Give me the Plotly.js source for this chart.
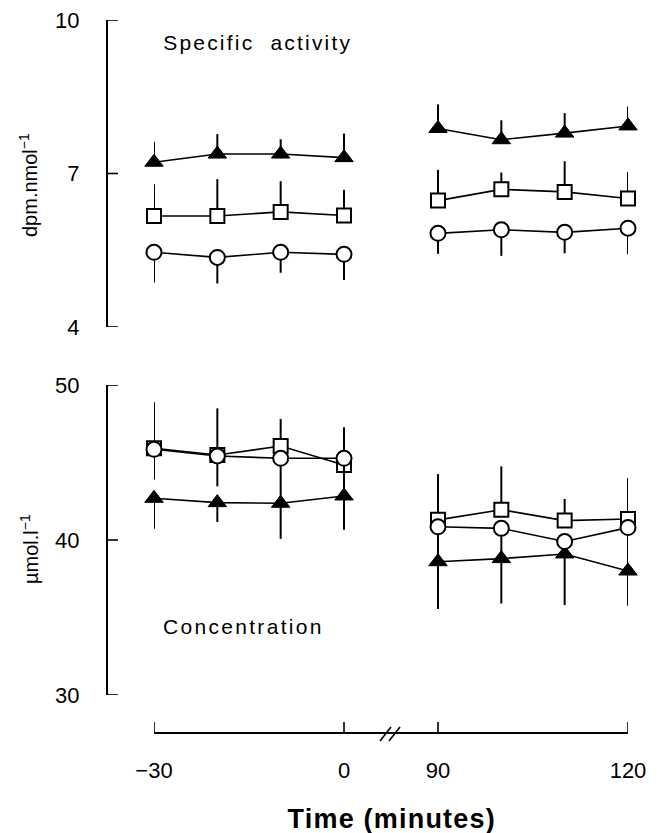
<!DOCTYPE html>
<html>
<head>
<meta charset="utf-8">
<script src="https://cdn.plot.ly/plotly-3.0.1.min.js"></script>
<style>
  html, body { margin: 0; padding: 0; background: white; }
  #chart { width: 661px; height: 833px; }
</style>
</head>
<body>
<div id="chart"></div>
<script>
// ---------------- data ----------------
const times = [-30, -20, -10, 0, 90, 100, 110, 120];
const xTickTimes = [-30, 0, 90, 120];
const xTickLabels = ['\u221230', '0', '90', '120'];
const saTickVals = [4, 7, 10];
const cTickVals = [30, 40, 50];

// Specific activity (dpm.nmol-1)
const saTriangle    = [7.22, 7.38, 7.38, 7.31, 7.88, 7.66, 7.79, 7.93];
const saTriangleErr = [0.40, 0.39, 0.29, 0.47, 0.47, 0.38, 0.39, 0.38]; // upward
const saSquare      = [6.17, 6.17, 6.25, 6.18, 6.47, 6.69, 6.64, 6.51];
const saSquareErr   = [0.62, 0.72, 0.60, 0.50, 0.60, 0.33, 0.60, 0.52]; // upward
const saCircle      = [5.46, 5.36, 5.46, 5.42, 5.83, 5.90, 5.85, 5.93];
const saCircleErr   = [0.59, 0.51, 0.40, 0.50, 0.40, 0.51, 0.41, 0.51]; // downward

// Concentration (umol.l-1)
const cTriangle    = [42.69, 42.41, 42.37, 42.84, 38.60, 38.80, 39.10, 38.00];
const cTriangleErr = [1.97, 1.25, 2.30, 2.18, 3.05, 2.90, 3.30, 2.25]; // downward
const cSquare      = [45.92, 45.48, 46.06, 44.84, 41.30, 41.95, 41.25, 41.35];
const cSquareErr   = [2.96, 3.01, 1.75, 2.43, 2.95, 2.80, 1.40, 2.65]; // upward
const cCircle      = [45.85, 45.42, 45.27, 45.27, 40.85, 40.75, 39.90, 40.80];
const cCircleErr   = [1.95, 1.96, 2.60, 2.00, 1.80, 1.80, 0.90, 2.30]; // downward

// ---------------- helpers ----------------
const W = 661, H = 833;
const fx = px => px / W;
const fy = py => 1 - py / H;
const GAP = 14.84;                       // width of the axis break, in minutes of scale
const tx = t => (t <= 0 ? t : t - 90 + GAP);

const FONT = 'Liberation Sans, Arial, Helvetica, sans-serif';

const markerStyles = {
  triangle: { symbol: 'triangle-up', size: 16, color: 'black', line: { color: 'black', width: 1 } },
  square:   { symbol: 'square', size: 14, color: 'white', line: { color: 'black', width: 2 } },
  circle:   { symbol: 'circle', size: 15, color: 'white', line: { color: 'black', width: 2 } }
};

function makeTraces(yvals, errs, dir, yaxis, kind) {
  const before = times.map((t, i) => i).filter(i => times[i] <= 0);
  const after  = times.map((t, i) => i).filter(i => times[i] > 0);
  return [before, after].map(idx => ({
    type: 'scatter',
    mode: 'lines+markers',
    xaxis: 'x',
    yaxis: yaxis,
    x: idx.map(i => tx(times[i])),
    y: idx.map(i => yvals[i]),
    error_y: {
      type: 'data', symmetric: false,
      array: idx.map(i => dir === 'up' ? errs[i] : 0),
      arrayminus: idx.map(i => dir === 'down' ? errs[i] : 0),
      color: 'black', thickness: 2, width: 0
    },
    line: { color: 'black', width: 1.6 },
    marker: markerStyles[kind],
    cliponaxis: false,
    hoverinfo: 'skip',
    showlegend: false
  }));
}

const data = [].concat(
  makeTraces(saTriangle, saTriangleErr, 'up', 'y', 'triangle'),
  makeTraces(saSquare, saSquareErr, 'up', 'y', 'square'),
  makeTraces(saCircle, saCircleErr, 'down', 'y', 'circle'),
  makeTraces(cTriangle, cTriangleErr, 'down', 'y2', 'triangle'),
  makeTraces(cSquare, cSquareErr, 'up', 'y2', 'square'),
  makeTraces(cCircle, cCircleErr, 'down', 'y2', 'circle')
);

const yCommon = {
  anchor: 'free', position: fx(107),
  showline: true, linewidth: 2.2, linecolor: 'black',
  ticks: '',
  showgrid: false, zeroline: false,
  tickfont: { family: FONT, size: 22, color: 'black' },
  ticklabelstandoff: 22,
  fixedrange: true
};

// tick marks (inside) drawn as short lines through the axes' own scales
const tickShapes = [].concat(
  saTickVals.map(v => ({ type: 'line', xref: 'paper', yref: 'y', x0: fx(107), x1: fx(118), y0: v, y1: v,
                         line: { color: 'black', width: 1.6 } })),
  cTickVals.map(v => ({ type: 'line', xref: 'paper', yref: 'y2', x0: fx(107), x1: fx(118), y0: v, y1: v,
                        line: { color: 'black', width: 1.6 } })),
  xTickTimes.map(t => ({ type: 'line', xref: 'x', yref: 'paper', x0: tx(t), x1: tx(t), y0: fy(733), y1: fy(722),
                         line: { color: 'black', width: 1.6 } }))
);

const layout = {
  width: W, height: H,
  margin: { l: 0, r: 0, t: 0, b: 0 },
  paper_bgcolor: 'white', plot_bgcolor: 'rgba(0,0,0,0)',
  showlegend: false,
  font: { family: FONT, color: 'black', size: 21 },
  xaxis: {
    domain: [fx(154), fx(628)],
    range: [tx(-30), tx(120)],
    anchor: 'free', position: fy(733),
    showline: true, linewidth: 2.2, linecolor: 'black',
    ticks: '',
    tickmode: 'array',
    tickvals: xTickTimes.map(tx),
    ticktext: xTickLabels,
    showgrid: false, zeroline: false,
    tickfont: { family: FONT, size: 22, color: 'black' },
    ticklabelstandoff: 17,
    fixedrange: true
  },
  yaxis: Object.assign({}, yCommon, {
    domain: [fy(327), fy(20)], range: [4, 10],
    tickmode: 'array', tickvals: saTickVals, ticktext: saTickVals.map(String)
  }),
  yaxis2: Object.assign({}, yCommon, {
    domain: [fy(695), fy(385)], range: [30, 50],
    tickmode: 'array', tickvals: cTickVals, ticktext: cTickVals.map(String)
  }),
  shapes: tickShapes.concat([
    { type: 'line', xref: 'paper', yref: 'paper', x0: fx(380), y0: fy(741), x1: fx(391), y1: fy(727), line: { color: 'black', width: 1.6 } },
    { type: 'line', xref: 'paper', yref: 'paper', x0: fx(389), y0: fy(741), x1: fx(400), y1: fy(727), line: { color: 'black', width: 1.6 } }
  ]),
  annotations: [
    { text: 'Specific\u00a0\u00a0activity', xref: 'paper', yref: 'paper', x: fx(258), y: fy(43),
      xanchor: 'center', yanchor: 'middle', showarrow: false, font: { family: FONT, size: 21, color: 'black' } },
    { text: 'Concentration', xref: 'paper', yref: 'paper', x: fx(243), y: fy(626),
      xanchor: 'center', yanchor: 'middle', showarrow: false, font: { family: FONT, size: 21, color: 'black' } },
    { text: 'dpm.nmol<sup>\u22121</sup>', xref: 'paper', yref: 'paper', x: fx(29), y: fy(185),
      xanchor: 'center', yanchor: 'middle', textangle: -90, showarrow: false, font: { family: FONT, size: 20, color: 'black' } },
    { text: '\u00b5mol.l<sup>\u22121</sup>', xref: 'paper', yref: 'paper', x: fx(29), y: fy(549),
      xanchor: 'center', yanchor: 'middle', textangle: -90, showarrow: false, font: { family: FONT, size: 20, color: 'black' } },
    { text: '<b>Time (minutes)</b>', xref: 'paper', yref: 'paper', x: fx(392), y: fy(819),
      xanchor: 'center', yanchor: 'middle', showarrow: false, font: { family: FONT, size: 27, color: 'black' } }
  ]
};

Plotly.newPlot('chart', data, layout, { staticPlot: true, displayModeBar: false }).then(() => {
  const spacing = {
    'Specific\u00a0\u00a0activity': '2.2px',
    'Concentration': '2.3px',
    'Time (minutes)': '1.2px',
    'dpm.nmol\u22121': '0.8px',
    '\u00b5mol.l\u22121': '2px'
  };
  document.querySelectorAll('.annotation-text').forEach(el => {
    const s = spacing[el.textContent];
    if (s) el.style.letterSpacing = s;
  });
});
</script>
</body>
</html>
